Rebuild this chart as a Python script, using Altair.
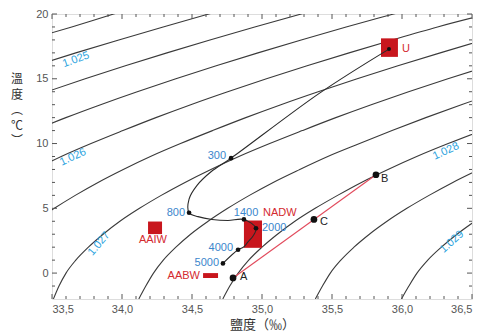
import altair as alt
import pandas as pd

# ---------------- data ----------------
S_DOMAIN = [33.5, 36.5]
T_DOMAIN = [-2, 20]

# density (sigma-t) contours: temperature / salinity points along each line
c240_T = [18, 19, 20, 21]
c240_S = [33.325, 33.641, 33.94, 34.26]
c245_T = [16, 17, 18, 19, 20, 21]
c245_S = [33.375, 33.670, 33.977, 34.294, 34.62, 34.95]
c250_T = [13, 14, 15, 16, 17, 18, 19, 20, 21]
c250_S = [33.202, 33.463, 33.737, 34.024, 34.321, 34.628, 34.948, 35.28, 35.62]
c255_T = [11, 12, 13, 14, 15, 16, 17, 18, 19, 20, 21]
c255_S = [33.366, 33.599, 33.847, 34.109, 34.385, 34.673, 34.971, 35.280, 35.601, 35.94, 36.28]
c260_T = [8, 9, 10, 11, 12, 13, 14, 15, 16, 17, 18, 19, 20]
c260_S = [33.373, 33.566, 33.779, 34.007, 34.242, 34.491, 34.755, 35.032, 35.322, 35.622, 35.932, 36.254, 36.611]
c265_T = [4, 5, 6, 7, 8, 9, 10, 11, 12, 13, 14, 15, 16, 17, 18]
c265_S = [33.382, 33.517, 33.666, 33.829, 34.009, 34.203, 34.418, 34.647, 34.884, 35.135, 35.401, 35.680, 35.971, 36.273, 36.584]
c270_T = [-2, -1, 0, 1, 2, 3, 4, 5, 6, 7, 8, 9, 10, 11, 12, 13, 14, 15, 16]
c270_S = [33.51, 33.55, 33.60, 33.67, 33.76, 33.865, 33.985, 34.125, 34.28, 34.45, 34.635, 34.835, 35.055, 35.288, 35.527, 35.780, 36.047, 36.328, 36.620]
c275_T = [-2, -1, 0, 1, 2, 3, 4, 5, 6, 7, 8, 9, 10, 11, 12, 13, 14]
c275_S = [34.12, 34.17, 34.225, 34.295, 34.385, 34.49, 34.615, 34.755, 34.91, 35.08, 35.27, 35.47, 35.697, 35.929, 36.170, 36.424, 36.693]
c280_T = [-2, -1, 0, 1, 2, 3, 4, 5, 6, 7, 8, 9, 10, 11]
c280_S = [34.72, 34.77, 34.83, 34.905, 35.0, 35.11, 35.235, 35.38, 35.54, 35.71, 35.90, 36.105, 36.33, 36.570]
c285_T = [-2, -1, 0, 1, 2, 3, 4, 5, 6, 7, 8]
c285_S = [35.381, 35.432, 35.488, 35.563, 35.657, 35.767, 35.893, 36.035, 36.193, 36.363, 36.551]
c290_T = [-2, -1, 0, 1, 2, 3, 4]
c290_S = [35.996, 36.049, 36.107, 36.184, 36.281, 36.393, 36.520]

contours = [
    ("24.0", c240_T, c240_S), ("24.5", c245_T, c245_S), ("25.0", c250_T, c250_S),
    ("25.5", c255_T, c255_S), ("26.0", c260_T, c260_S), ("26.5", c265_T, c265_S),
    ("27.0", c270_T, c270_S), ("27.5", c275_T, c275_S), ("28.0", c280_T, c280_S),
    ("28.5", c285_T, c285_S), ("29.0", c290_T, c290_S),
]

# contour labels
clab_text = ["1.025", "1.026", "1.027", "1.028", "1.029"]
clab_S = [33.671, 33.65, 33.836, 36.314, 36.357]
clab_T = [16.47, 8.95, 2.26, 9.40, 2.41]
clab_ang = [340, 335, 310, 335, 318]

# T-S profile from the surface (U) to the bottom
ts_S = [35.907, 35.414, 34.779, 34.636, 34.536, 34.479, 34.479, 34.543, 34.643,
        34.757, 34.871, 34.957, 34.936, 34.900, 34.871, 34.829, 34.721]
ts_T = [17.29, 13.91, 8.87, 7.82, 6.77, 5.71, 4.66, 4.36, 4.14,
        4.06, 4.14, 3.46, 2.86, 2.41, 2.03, 1.80, 0.75]

# depth points on the profile
depth_S = [34.779, 34.479, 34.871, 34.957, 34.829, 34.721]
depth_T = [8.87, 4.66, 4.14, 3.46, 1.80, 0.75]

# water mass boxes
box_name = ["U", "NADW", "AAIW", "AABW"]
box_S1 = [35.85, 34.871, 34.186, 34.579]
box_S2 = [35.971, 35.0, 34.286, 34.686]
box_T1 = [16.69, 1.95, 3.01, -0.38]
box_T2 = [18.12, 4.06, 3.98, 0.0]

# mixing points A, B, C and U marker
mix_name = ["A", "B", "C"]
mix_S = [34.793, 35.814, 35.371]
mix_T = [-0.376, 7.59, 4.14]
u_S, u_T = [35.907], [17.29]

# text labels
blue_r_text = ["300", "800", "4000", "5000"]
blue_r_S = [34.743, 34.45, 34.793, 34.693]
blue_r_T = [9.02, 4.66, 1.92, 0.79]
blue_c_text, blue_c_S, blue_c_T = ["1400"], [34.886], [4.66]
blue_l_text, blue_l_S, blue_l_T = ["2000"], [35.0], [3.46]
red_l_text, red_l_S, red_l_T = ["NADW", "U"], [35.007, 36.0], [4.66, 17.29]
red_r_text, red_r_S, red_r_T = ["AABW"], [34.557], [-0.24]
red_c_text, red_c_S, red_c_T = ["AAIW"], [34.221], [2.56]
blk_text = ["A", "B", "C"]
blk_S = [34.843, 35.85, 35.414]
blk_T = [-0.3, 7.26, 3.95]

# axis ticks
x_major = [33.5, 34.0, 34.5, 35.0, 35.5, 36.0, 36.5]
x_minor = [33.6, 33.7, 33.8, 33.9, 34.1, 34.2, 34.3, 34.4, 34.6, 34.7, 34.8, 34.9,
           35.1, 35.2, 35.3, 35.4, 35.6, 35.7, 35.8, 35.9, 36.1, 36.2, 36.3, 36.4]
y_major = [0, 5, 10, 15, 20]
y_minor = [-1, 1, 2, 3, 4, 6, 7, 8, 9, 11, 12, 13, 14, 16, 17, 18, 19]

# y title, written vertically
y_title = ["溫", "度", "︵", "℃", "︶"]

# ---------------- chart ----------------
W, H = 420, 285
LINE = "#3a3a3a"
RED_BOX = "#c8161d"
RED_TXT = "#d42a30"
BLUE_D = "#3b86cc"
BLUE_C = "#2ba3de"
MIX = "#e24a5c"
FONT = "Liberation Sans"

xs = alt.Scale(domain=S_DOMAIN, nice=False, zero=False)
ys = alt.Scale(domain=T_DOMAIN, nice=False, zero=False)

xaxis = alt.Axis(values=x_major, labelExpr="replace(format(datum.value, '.1f'), '.', ',')",
                 ticks=False, domain=False, grid=False, labelFont=FONT, labelFontSize=11,
                 labelColor="#555", labelPadding=4, title="鹽度（‰）",
                 titleFont="Noto Sans CJK TC", titleFontSize=13, titleFontWeight="normal",
                 titleColor="#333", titlePadding=4)
yaxis = alt.Axis(values=y_major, ticks=False, domain=False, grid=False, labelFont=FONT,
                 labelFontSize=11, labelColor="#555", labelPadding=4, title=None)

rows = []
for lev, Ts, Ss in contours:
    for t, s in zip(Ts, Ss):
        rows.append({"level": lev, "S": s, "T": t})
cdf = pd.DataFrame(rows)

contour_layer = alt.Chart(cdf).mark_line(color=LINE, strokeWidth=1.1, clip=True,
                                         interpolate="monotone").encode(
    x=alt.X("S:Q", scale=xs, axis=xaxis),
    y=alt.Y("T:Q", scale=ys, axis=yaxis),
    detail="level:N",
)

clab_df = pd.DataFrame({"text": clab_text, "S": clab_S, "T": clab_T, "ang": clab_ang})
clab_layer = alt.Chart(clab_df).mark_text(font=FONT, fontSize=11, color=BLUE_C,
                                          align="center", baseline="middle").encode(
    x="S:Q", y="T:Q", text="text:N", angle=alt.Angle("ang:Q", scale=None))

box_df = pd.DataFrame({"name": box_name, "S1": box_S1, "S2": box_S2, "T1": box_T1, "T2": box_T2})
box_layer = alt.Chart(box_df).mark_rect(color=RED_BOX).encode(
    x="S1:Q", x2="S2:Q", y="T1:Q", y2="T2:Q")

mix_line_df = pd.DataFrame({"S": [mix_S[0], mix_S[1]], "T": [mix_T[0], mix_T[1]]})
mix_line_layer = alt.Chart(mix_line_df).mark_line(color=MIX, strokeWidth=1.1).encode(
    x="S:Q", y="T:Q")

ts_df = pd.DataFrame({"S": ts_S, "T": ts_T, "i": list(range(len(ts_S)))})
ts_layer = alt.Chart(ts_df).mark_line(color="#2a2a2a", strokeWidth=1.1,
                                      interpolate="catmull-rom").encode(
    x="S:Q", y="T:Q", order="i:Q")

depth_df = pd.DataFrame({"S": depth_S, "T": depth_T})
depth_layer = alt.Chart(depth_df).mark_circle(color="#111", size=22, opacity=1).encode(
    x="S:Q", y="T:Q")

mix_df = pd.DataFrame({"name": mix_name, "S": mix_S, "T": mix_T})
mix_layer = alt.Chart(mix_df).mark_circle(color="#111", size=45, opacity=1).encode(
    x="S:Q", y="T:Q")

u_df = pd.DataFrame({"S": u_S, "T": u_T})
u_layer = alt.Chart(u_df).mark_circle(color="#111", size=16, opacity=1).encode(
    x="S:Q", y="T:Q")


def text_layer(texts, Ss, Ts, color, align):
    df = pd.DataFrame({"text": texts, "S": Ss, "T": Ts})
    return alt.Chart(df).mark_text(font=FONT, fontSize=11, color=color, align=align,
                                   baseline="middle").encode(x="S:Q", y="T:Q", text="text:N")


labels = [
    text_layer(blue_r_text, blue_r_S, blue_r_T, BLUE_D, "right"),
    text_layer(blue_c_text, blue_c_S, blue_c_T, BLUE_D, "center"),
    text_layer(blue_l_text, blue_l_S, blue_l_T, BLUE_D, "left"),
    text_layer(red_l_text, red_l_S, red_l_T, RED_TXT, "left"),
    text_layer(red_r_text, red_r_S, red_r_T, RED_TXT, "right"),
    text_layer(red_c_text, red_c_S, red_c_T, RED_TXT, "center"),
    text_layer(blk_text, blk_S, blk_T, "#222", "left"),
]

# vertical y-axis title (one glyph per line)
ytitle_layer = alt.Chart(pd.DataFrame({"a": [0]})).mark_text(
    font="Noto Sans CJK TC", fontSize=12, color="#333", align="center",
    baseline="top", lineHeight=15.5,
).encode(x=alt.value(-35), y=alt.value(60), text=alt.value(y_title))

# inward axis ticks
TK = "#555"
def xticks(vals, length, top):
    df = pd.DataFrame({"v": vals})
    if top:
        return alt.Chart(df).mark_rule(color=TK, strokeWidth=1).encode(
            x="v:Q", y=alt.value(0), y2=alt.value(length))
    return alt.Chart(df).mark_rule(color=TK, strokeWidth=1).encode(
        x="v:Q", y=alt.value(H), y2=alt.value(H - length))


def yticks(vals, length, right):
    df = pd.DataFrame({"v": vals})
    if right:
        return alt.Chart(df).mark_rule(color=TK, strokeWidth=1).encode(
            y="v:Q", x=alt.value(W), x2=alt.value(W - length))
    return alt.Chart(df).mark_rule(color=TK, strokeWidth=1).encode(
        y="v:Q", x=alt.value(0), x2=alt.value(length))


ticks = [
    xticks(x_major, 5, False), xticks(x_minor, 3, False),
    xticks(x_major, 5, True), xticks(x_minor, 3, True),
    yticks(y_major, 5, False), yticks(y_minor, 3, False),
    yticks(y_major, 5, True), yticks(y_minor, 3, True),
]

chart = alt.layer(
    contour_layer, clab_layer, box_layer, mix_line_layer, ts_layer,
    depth_layer, mix_layer, u_layer, *labels, ytitle_layer, *ticks
).properties(
    width=W, height=H,
    autosize=alt.AutoSizeParams(type="none"),
    padding={"left": 44, "top": 6, "right": 4, "bottom": 36},
).configure_view(stroke="#555", strokeWidth=1).configure(background="white")

chart.save("out.html", embed_options={"renderer": "svg", "actions": False})
